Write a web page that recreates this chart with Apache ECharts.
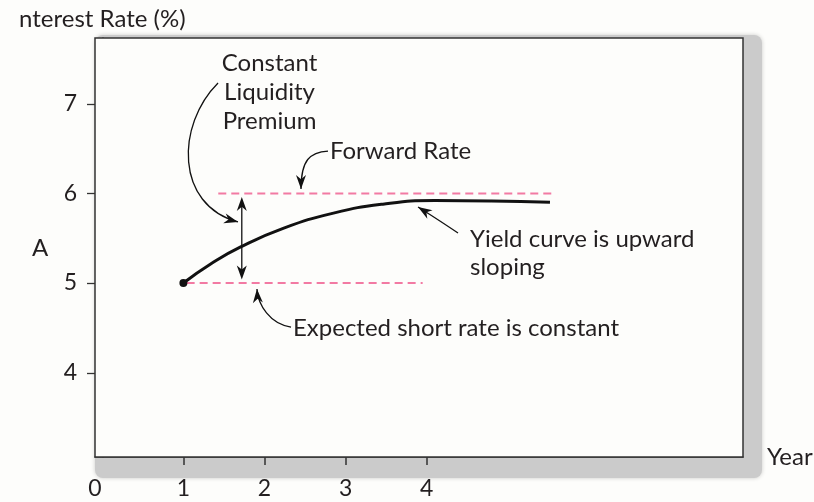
<!DOCTYPE html>
<html>
<head>
<meta charset="utf-8">
<script src="https://cdn.jsdelivr.net/npm/echarts@6/dist/echarts.min.js"></script>
<style>
  html, body { margin: 0; padding: 0; background: #fdfdfb; }
  #mychart { width: 814px; height: 502px; }
</style>
</head>
<body>
<div id="mychart"></div>
<script>
// 收益率曲线 (年, 利率%)
var yieldYears = [1.0, 1.35, 1.7, 2.23, 2.85, 3.46, 4.1, 4.8, 5.52];
var yieldRates = [5.0, 5.22, 5.40, 5.61, 5.78, 5.88, 5.92, 5.915, 5.90];
// 远期利率 与 预期短期利率 (虚线)
var forwardYears = [1.43, 5.58];
var forwardRates = [6.0, 6.0];
var shortYears = [1.04, 3.95];
var shortRates = [5.0, 5.0];
// 刻度
var xTicks = [1, 2, 3, 4];
var yTicks = [4, 5, 6, 7];
var premiumYear = 1.72;

var FONT = 'Lato';
var TXT = '#231f20';
var gridBox = { left: 95, top: 38, width: 648, height: 419 };

function pairs(xs, ys) {
  return xs.map(function (x, i) { return [x, ys[i]]; });
}

var myChart = echarts.init(document.getElementById('mychart'));

var option = {
  backgroundColor: '#fdfdfb',
  animation: false,
  grid: {
    left: gridBox.left, top: gridBox.top, width: gridBox.width, height: gridBox.height,
    outerBoundsMode: 'none', containLabel: false,
    show: true, backgroundColor: '#fdfdfb', borderColor: '#333', borderWidth: 1.5, z: 1
  },
  xAxis: {
    type: 'value', min: -0.09, max: 7.9,
    name: 'Year', nameLocation: 'end', nameGap: 24,
    nameTextStyle: { color: TXT, fontFamily: FONT, fontSize: 24, padding: [0, 0, 10, 0] },
    axisLine: { show: true, lineStyle: { color: '#333', width: 1.5 } },
    axisTick: { show: true, length: 8, customValues: xTicks, lineStyle: { color: '#333', width: 1.5 } },
    axisLabel: {
      customValues: [-0.09].concat(xTicks), margin: 20,
      color: TXT, fontFamily: FONT, fontSize: 23,
      formatter: function (v) { return String(Math.round(v)); }
    },
    splitLine: { show: false }
  },
  yAxis: {
    type: 'value', min: 3.057, max: 7.735,
    name: 'nterest Rate (%)', nameLocation: 'end', nameGap: 7,
    nameTextStyle: { color: TXT, fontFamily: FONT, fontSize: 24, align: 'center' },
    axisLine: { show: true, lineStyle: { color: '#333', width: 1.5 } },
    axisTick: { show: false },
    axisLabel: { customValues: yTicks, margin: 18, color: TXT, fontFamily: FONT, fontSize: 23 },
    splitLine: { show: false }
  },
  series: [
    {
      name: 'Forward Rate', type: 'line', data: pairs(forwardYears, forwardRates),
      symbol: 'none', lineStyle: { color: '#f27aa3', width: 2, type: [8, 5] }, z: 3
    },
    {
      name: 'Expected short rate', type: 'line', data: pairs(shortYears, shortRates),
      symbol: 'none', lineStyle: { color: '#f27aa3', width: 2, type: [8, 5] }, z: 3
    },
    {
      name: 'Yield curve', type: 'line', data: pairs(yieldYears, yieldRates),
      smooth: 0.5, lineStyle: { color: '#111', width: 3 },
      symbol: function (v, p) { return p.dataIndex === 0 ? 'circle' : 'none'; },
      symbolSize: 8, itemStyle: { color: '#111' }, z: 4
    }
  ]
};
myChart.setOption(option);

// 注释（数据坐标 -> 像素）
function P(x, y) { return myChart.convertToPixel({ gridIndex: 0 }, [x, y]); }

function arrowHead(tip, from, len, half) {
  var dx = tip[0] - from[0], dy = tip[1] - from[1];
  var d = Math.sqrt(dx * dx + dy * dy);
  var ux = dx / d, uy = dy / d;
  var bx = tip[0] - ux * len, by = tip[1] - uy * len;
  return {
    type: 'polygon', z: 10,
    shape: { points: [tip, [bx - uy * half, by + ux * half], [tip[0] - ux * len * 0.7, tip[1] - uy * len * 0.7], [bx + uy * half, by - ux * half]] },
    style: { fill: '#111' }
  };
}

function curveArrow(p0, c1, c2, p3) {
  var a = P(p0[0], p0[1]), b = P(c1[0], c1[1]), c = P(c2[0], c2[1]), d = P(p3[0], p3[1]);
  return [
    {
      type: 'bezierCurve', z: 10,
      shape: { x1: a[0], y1: a[1], cpx1: b[0], cpy1: b[1], cpx2: c[0], cpy2: c[1], x2: d[0], y2: d[1] },
      style: { stroke: '#111', lineWidth: 1.3, fill: null }
    },
    arrowHead(d, c, 14, 5)
  ];
}

function label(x, y, text, align, lh) {
  var p = P(x, y);
  return {
    type: 'text', z: 10, x: p[0], y: p[1],
    style: {
      text: text, fill: TXT, font: '24px ' + FONT, align: align || 'left',
      verticalAlign: 'middle', lineHeight: lh || 28
    }
  };
}

var g0 = P(-0.09, 7.735);
var g1 = P(7.9, 3.057);
var elements = [
  {
    type: 'rect', z: -1, silent: true,
    shape: { x: g0[0], y: g0[1] - 3, width: g1[0] - g0[0] + 19, height: g1[1] - g0[1] + 24, r: 8 },
    style: { fill: '#cbcbcb', shadowBlur: 4, shadowColor: 'rgba(0,0,0,0.2)' }
  }
];

// y 轴刻度线
yTicks.forEach(function (v) {
  var p = P(-0.09, v);
  elements.push({
    type: 'line', z: 10,
    shape: { x1: p[0] - 8, y1: Math.round(p[1]) + 0.5, x2: p[0], y2: Math.round(p[1]) + 0.5 },
    style: { stroke: '#333', lineWidth: 1.3 }
  });
});

// 恒定流动性溢价 双向箭头
var pTop = P(premiumYear, 5.96), pBot = P(premiumYear, 5.04);
elements.push({
  type: 'line', z: 10,
  shape: { x1: pTop[0], y1: pTop[1] + 8, x2: pBot[0], y2: pBot[1] - 8 },
  style: { stroke: '#111', lineWidth: 1.3 }
});
elements.push(arrowHead(pTop, [pTop[0], pTop[1] + 20], 14, 5));
elements.push(arrowHead(pBot, [pBot[0], pBot[1] - 20], 14, 5));

elements = elements
  .concat(curveArrow([1.427, 7.233], [0.909, 6.764], [0.896, 5.87], [1.673, 5.681]))
  .concat(curveArrow([2.783, 6.473], [2.561, 6.462], [2.45, 6.373], [2.45, 6.049]))
  .concat(curveArrow([4.386, 5.558], [4.2, 5.67], [4.05, 5.76], [3.893, 5.848]))
  .concat(curveArrow([2.327, 4.508], [2.068, 4.542], [1.92, 4.754], [1.907, 4.933]));

elements.push(label(2.062, 7.132, 'Constant\nLiquidity\nPremium', 'center', 29));
elements.push(label(2.807, 6.473, 'Forward Rate'));
elements.push(label(4.534, 5.335, 'Yield curve is upward\nsloping', 'left', 28));
elements.push(label(2.351, 4.497, 'Expected short rate is constant'));
elements.push(label(-0.768, 5.39, 'A', 'center'));

myChart.setOption({ graphic: { elements: elements } });
</script>
</body>
</html>
